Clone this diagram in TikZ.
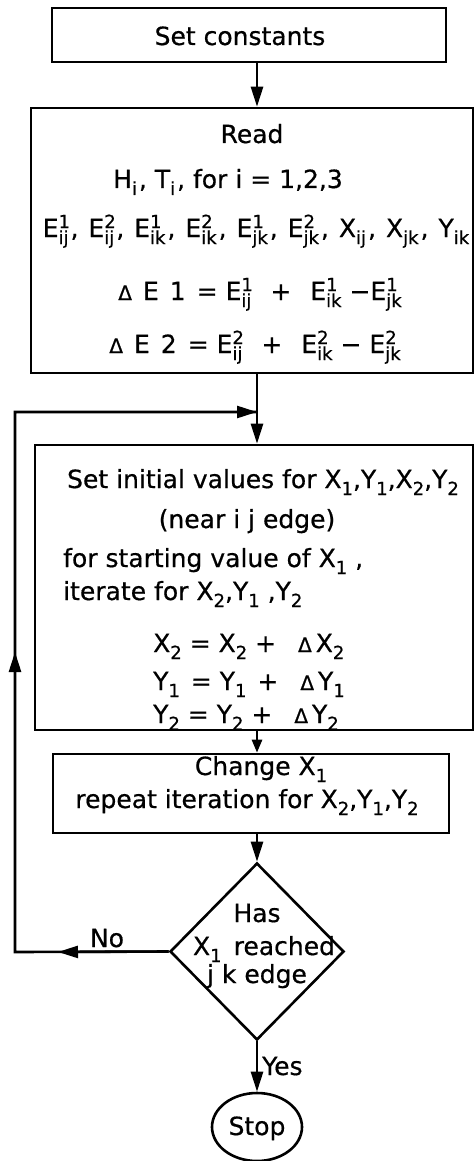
\documentclass[tikz,border=0pt]{standalone}
\usepackage{fontspec}
\setmainfont{DejaVu Sans}[FakeBold=0.6]
\usetikzlibrary{shapes.geometric,arrows.meta}
\newcommand\subsz{\fontsize{18}{18}\selectfont}
\newcommand\sbs[1]{\raisebox{-7pt}{\subsz #1}}
\newcommand\sps[2]{\makebox[0pt][l]{\raisebox{9pt}{\subsz #1}}\raisebox{-7pt}{\subsz #2}}
\newcommand\dlt{{\fontsize{20}{20}\selectfont Δ}}
\newcommand\gap{\hspace{8pt}}
\newcommand\wgap{\hspace{11pt}}
\newcommand\cm{\hspace{2pt},\hspace{10pt}}
\begin{document}
\begin{tikzpicture}[x=1pt,y=-1pt,
  every node/.style={font=\fontsize{25}{30}\selectfont, inner sep=0pt},
  ln/.style={line width=2.6pt},
  box/.style={draw, ln, rectangle},
  txt/.style={anchor=base},
  txtl/.style={anchor=base west},
  arr/.style={ln, -{Triangle[length=20pt,width=12pt]}},
  arrS/.style={ln, -{Triangle[length=13pt,width=10pt]}}]
\useasboundingbox (0,0) rectangle (474,1161);

% boxes
\node[box, minimum width=394pt, minimum height=54pt] (b1) at (249,35) {};
\node[box, minimum width=442pt, minimum height=265pt] (b2) at (252,240.5) {};
\node[box, minimum width=438pt, minimum height=285pt] (b3) at (254,587.5) {};
\node[box, minimum width=396pt, minimum height=79pt] (b4) at (251,793.5) {};
\node[draw, ln, diamond, minimum width=174pt, minimum height=177pt] (dia) at (257,951.5) {};
\node[draw, ln, ellipse, minimum width=90pt, minimum height=68pt] (stop) at (257,1127) {};

% texts
\node[txt] (t1) at (240,45) {Set constants};
\node[txt] (r1) at (252,143) {Read};
\node[txt] (r2) at (228,188) {H\sbs{i}\hspace{2pt}, T\sbs{i}\hspace{2pt}, for\gap i = 1,2,3};
\node[txt] (r3) at (256,237) {E\sps{1}{ij}\cm E\sps{2}{ij}\cm E\sps{1}{ik}\cm E\sps{2}{ik}\cm E\sps{1}{jk}\cm E\sps{2}{jk}\cm X\sbs{ij}\cm X\sbs{jk}\cm Y\sbs{ik}};
\node[txt] (r4) at (260,300) {\dlt\wgap E\wgap 1\wgap =\gap E\sps{1}{ij}\wgap\gap + \wgap E\sps{1}{ik}\gap\textminus E\sps{1}{jk}};
\node[txt] (r5) at (255,353) {\dlt\wgap E\wgap 2\wgap =\gap E\sps{2}{ij}\wgap\gap + \wgap E\sps{2}{ik}\gap\textminus\ E\sps{2}{jk}};

\node[txt] (s1) at (263,488) {Set\gap initial values for X\sbs{1},Y\sbs{1},X\sbs{2},Y\sbs{2}};
\node[txt] (s2) at (247,528) {(near i j edge)};
\node[txtl] (s3) at (63,567) {for starting value of\gap X\sbs{1} ,};
\node[txtl] (s4) at (63,600) {iterate\gap for\gap X\sbs{2},Y\sbs{1} ,Y\sbs{2}};
\node[txtl] (s5) at (153,652) {X\sbs{2} = X\sbs{2} +\wgap\wgap\dlt\hspace{4pt}X\sbs{2}};
\node[txtl] (s6) at (153,690) {Y\sbs{1} \hspace{3pt}= Y\sbs{1} \hspace{3pt}+\wgap\wgap\dlt\hspace{4pt}Y\sbs{1}};
\node[txtl] (s7) at (153,723) {Y\sbs{2} = Y\sbs{2} +\wgap\wgap\dlt\hspace{4pt}Y\sbs{2}};

\node[txt] (c1) at (261,775) {Change X\sbs{1}};
\node[txt] (c2) at (247,808) {repeat iteration for X\sbs{2},Y\sbs{1},Y\sbs{2}};

\node[txt] (d1) at (257,922) {Has};
\node[txt] (d2) at (264,955) {X\sbs{1}\, reached};
\node[txt] (d3) at (257,983) {j k edge};
\node[txt] (no) at (107,947) {No};
\node[txtl] (yes) at (262,1075) {Yes};
\node[txt] (st) at (257,1135) {Stop};

% connectors
\coordinate (J) at (257,412);
\coordinate (cL1) at (15,952);
\coordinate (cL2) at (15,412);
\coordinate (noTip) at (58,952);
\coordinate (upTip) at (15,652);

\draw[arr] (b1.south -| J) -- (b2.north -| J);
\draw[ln] (b2.south -| J) -- (J);
\draw[arr] (J) -- (b3.north -| J);
\draw[arrS] (b3.south -| J) -- (b4.north -| J);
\draw[arr] (b4.south -| J) -- (dia.north);
\draw[arr] (dia.south) -- (stop.north);
\draw[ln] (dia.west) -- (cL1) -- (cL2) -- (J);
\draw[arr] (dia.west) -- (noTip);
\draw[arr] (cL1) -- (upTip);
\draw[arr] (cL2) -- (J);
\end{tikzpicture}
\end{document}
